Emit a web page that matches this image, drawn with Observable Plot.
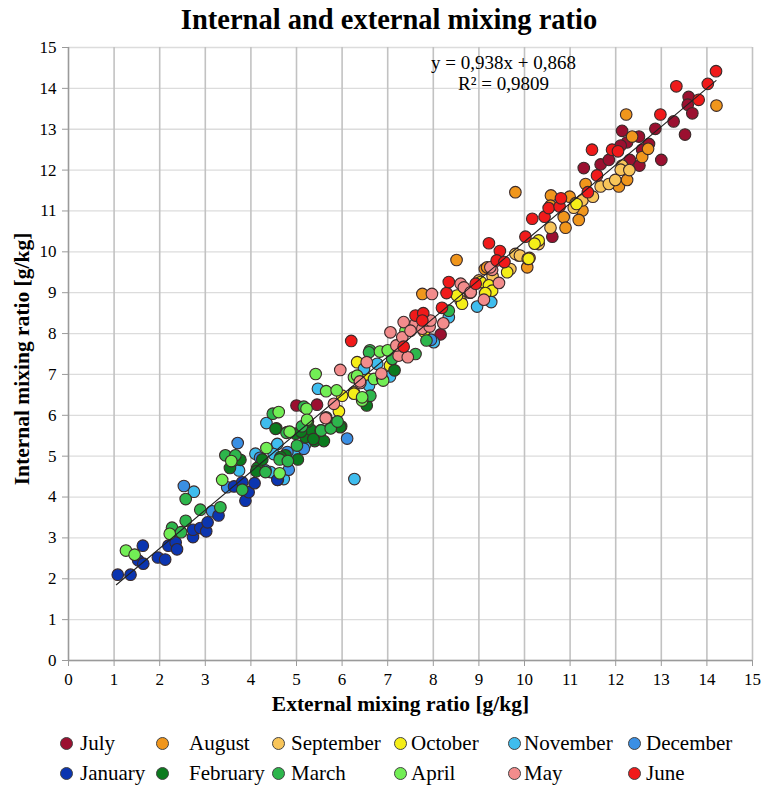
<!DOCTYPE html>
<html><head><meta charset="utf-8">
<script src="https://cdn.jsdelivr.net/npm/d3@7"></script>
<script src="https://cdn.jsdelivr.net/npm/@observablehq/plot@0.6"></script>
<style>
body{margin:0;background:#fff;font-family:"Liberation Serif","Times New Roman",serif;}
#wrap{position:relative;width:766px;height:787px;overflow:hidden;}
#title{position:absolute;top:2px;left:6px;width:766px;text-align:center;font-weight:bold;font-size:28.5px;line-height:36px;}
#chart{position:absolute;top:35px;left:0;}
.ld{position:absolute;width:11px;height:11px;border-radius:50%;border:1px solid #444;}
.lt{position:absolute;font-size:21px;line-height:24px;white-space:nowrap;color:#000;}
</style></head>
<body><div id="wrap"><div id="title">Internal and external mixing ratio</div><div id="chart"></div><div id="legend"></div></div>
<script>
const xTicks = [0,1,2,3,4,5,6,7,8,9,10,11,12,13,14,15];
const yTicks = [0,1,2,3,4,5,6,7,8,9,10,11,12,13,14,15];
const slope = 0.938, intercept = 0.868;
const trendX = [1.05, 14.2];
const eqText = ["y = 0,938x + 0,868", "R² = 0,9809"];

const monthNames = ["July","August","September","October","November","December","January","February","March","April","May","June"];
const monthColors = ["#9B1030","#F0961C","#F8C55A","#F5EE18","#3FBDEE","#3A8FE4","#0B35B0","#0B7A1E","#2DB64C","#72EE55","#F28C8C","#F01A1A"];

const july = [[5.00,6.24],[5.45,6.26],[8.16,7.98],[10.61,10.37],[11.30,12.05],[11.67,12.14],[11.85,12.25],[12.14,12.96],[12.25,12.68],[12.31,12.25],[12.52,12.11],[12.51,12.82],[12.73,12.64],[12.87,13.01],[13.27,13.19],[13.52,12.87],[13.00,12.25],[13.60,13.79],[13.58,13.60],[13.68,13.39],[12.11,12.60],[12.58,12.50]];
const august = [[7.76,8.97],[8.51,9.80],[9.13,9.58],[9.80,11.46],[10.58,11.38],[10.99,11.35],[11.27,11.01],[10.86,10.85],[10.90,10.59],[11.19,10.78],[10.57,11.13],[10.06,9.62],[10.11,9.85],[9.87,9.91],[9.18,9.62],[12.07,11.60],[12.25,11.76],[12.58,12.32],[12.71,12.52],[12.36,12.82],[11.34,11.66],[12.23,13.36],[14.21,13.58]];
const september = [[11.12,11.19],[11.08,11.08],[11.27,11.26],[11.67,11.60],[11.85,11.66],[12.14,12.11],[12.11,12.01],[11.99,11.76],[10.31,10.19],[10.57,10.59],[9.69,9.58],[9.80,9.95],[9.90,9.91],[10.07,9.83],[8.60,8.80],[9.00,9.30],[9.30,9.40],[8.80,9.00],[11.50,11.35],[12.30,12.00]];
const october = [[10.31,10.28],[10.22,10.20],[9.04,9.26],[9.22,9.18],[9.29,9.05],[9.14,8.99],[8.63,8.73],[8.52,8.93],[9.62,9.50],[10.09,9.83],[11.14,11.17],[7.80,8.05],[6.33,7.30],[6.26,6.56],[6.00,6.48],[5.93,6.10],[6.26,6.53],[7.05,7.22],[6.55,6.90]];
const november = [[2.75,4.13],[3.74,4.65],[4.10,5.06],[4.34,5.81],[4.58,5.30],[4.43,4.61],[4.72,4.44],[6.27,4.44],[5.47,6.65],[6.59,6.73],[6.77,7.26],[6.48,7.14],[8.01,7.79],[8.34,8.40],[8.96,8.66],[9.27,8.77],[8.82,9.01],[4.95,5.10],[5.20,5.30],[4.20,4.75],[4.50,5.05],[7.05,6.95]];
const december = [[2.53,4.27],[3.15,3.65],[3.48,4.24],[3.71,5.32],[4.32,4.65],[4.59,4.42],[4.83,4.67],[5.16,5.18],[6.11,5.43],[4.20,4.96],[4.80,5.10],[5.35,5.50],[7.95,7.85]];
const january = [[1.08,2.10],[1.36,2.10],[1.53,2.45],[1.64,2.37],[1.63,2.81],[1.96,2.52],[2.12,2.47],[2.19,2.81],[2.35,2.89],[2.38,2.72],[2.73,3.02],[2.73,3.20],[2.89,3.24],[3.02,3.16],[3.05,3.38],[3.29,3.55],[3.63,4.26],[3.81,4.36],[3.88,3.91],[3.95,4.12],[4.08,4.34],[4.58,4.42]];
const february = [[3.54,4.71],[3.77,4.91],[4.14,4.71],[4.25,4.92],[4.76,5.02],[5.03,4.92],[4.56,5.68],[4.98,5.55],[5.20,5.46],[5.40,5.37],[5.60,5.37],[5.98,5.73],[4.54,5.67],[4.80,5.59],[5.31,5.65],[5.53,5.63],[5.75,5.69],[5.96,5.71],[5.37,5.42],[6.54,6.24],[7.15,7.10],[4.12,4.63],[4.65,4.98],[5.25,5.85],[5.65,5.95],[5.10,5.60],[5.80,5.80]];
const march = [[2.27,3.25],[2.47,3.14],[2.57,3.42],[2.89,3.69],[3.33,3.75],[2.57,3.95],[3.81,4.18],[3.44,5.02],[3.66,5.02],[4.63,4.92],[4.81,4.88],[4.78,5.57],[5.01,5.26],[5.54,5.63],[5.75,5.68],[4.48,6.04],[5.16,6.21],[6.61,7.59],[6.59,7.54],[7.10,7.38],[7.61,7.50],[7.85,7.83],[8.34,8.56],[6.62,6.48],[4.32,4.61],[5.12,5.73],[5.90,5.85]];
const april = [[1.26,2.69],[1.45,2.59],[2.22,3.10],[3.37,4.42],[3.57,4.88],[4.34,5.20],[4.63,4.58],[4.61,6.08],[5.22,6.16],[5.23,5.89],[5.65,6.59],[5.88,6.61],[6.44,6.36],[6.26,6.93],[6.83,7.56],[7.00,7.59],[6.44,6.44],[6.70,6.89],[6.88,6.89],[6.90,6.85],[6.33,6.97],[5.42,7.01],[4.85,5.60],[7.39,8.07]];
const may = [[5.82,6.28],[5.96,7.11],[5.64,5.93],[6.40,6.79],[6.54,7.30],[6.86,7.02],[6.39,6.83],[7.28,7.59],[7.24,7.46],[7.44,7.42],[7.19,7.71],[7.32,7.91],[7.06,8.03],[7.35,8.28],[7.61,8.24],[7.76,8.12],[7.92,8.17],[7.85,8.32],[7.50,8.07],[7.94,8.32],[8.22,8.25],[7.97,8.97],[8.60,9.22],[8.67,9.13],[8.82,9.01],[9.44,9.24],[9.11,8.83],[9.29,9.56],[9.25,9.62]];
const june = [[6.20,7.82],[7.35,7.68],[7.61,8.44],[7.78,8.50],[7.76,8.32],[8.19,8.63],[8.29,8.99],[8.34,9.26],[8.93,9.22],[9.22,10.21],[9.46,10.02],[9.39,9.79],[9.56,9.75],[10.02,10.37],[10.17,10.81],[10.44,10.86],[10.53,11.07],[10.77,11.11],[10.80,11.31],[11.39,11.46],[11.59,11.87],[11.48,12.50],[11.92,12.50],[12.05,12.46],[12.98,13.36],[13.33,14.05],[13.82,13.72],[14.02,14.11],[14.20,14.42]];

const series = [july,august,september,october,november,december,january,february,march,april,may,june];
const months = monthNames.map((name,i)=>({name, color: monthColors[i], pts: series[i].map(([x,y])=>({x,y}))}));

const trend = trendX.map(x=>({x, y: slope*x + intercept}));

const plot = Plot.plot({
  width: 766, height: 690,
  marginTop: 12, marginBottom: 65, marginLeft: 68, marginRight: 14,
  style: {fontFamily: '"Liberation Serif","Times New Roman",serif', fontSize: "17px", color: "#000", background: "transparent", overflow: "visible"},
  x: {domain: [0,15]},
  y: {domain: [0,15]},
  marks: [
    Plot.gridY(yTicks, {stroke: "#dcdcdc", strokeOpacity: 1, strokeWidth: 1.3}),
    Plot.gridX(xTicks, {stroke: "#c2c2c2", strokeOpacity: 1, strokeWidth: 1.6}),
    Plot.ruleY([0], {stroke: "#9a9a9a", strokeWidth: 1.3}),
    Plot.ruleX([0], {stroke: "#9a9a9a", strokeWidth: 1.3}),
    Plot.axisX(xTicks, {tickSize: 6, tickPadding: 6, stroke: "#9a9a9a", fill: "#000", label: null, fontSize: 17}),
    Plot.axisY(yTicks, {tickSize: 6, tickPadding: 6, stroke: "#9a9a9a", fill: "#000", label: null, fontSize: 17}),
    ...months.map(m => Plot.dot(m.pts, {x: "x", y: "y", r: 5.8, fill: m.color, fillOpacity: 1, stroke: "#3a2a2a", strokeWidth: 1.1})),
    Plot.line(trend, {x: "x", y: "y", stroke: "#222", strokeWidth: 1.1}),
    Plot.text([eqText[0]], {x: 9.54, y: 14.62, text: d => d, fontSize: 19, fill: "#000"}),
    Plot.text([eqText[1]], {x: 9.54, y: 14.11, text: d => d, fontSize: 19, fill: "#000"}),
    Plot.text(["External mixing ratio [g/kg]"], {frameAnchor: "bottom", dy: 50, dx: -10, text: d => d, fontSize: 21.5, fontWeight: "bold", fill: "#000"}),
    Plot.text(["Internal mixing ratio [g/kg]"], {frameAnchor: "left", textAnchor: "middle", dx: -46, dy: 5, rotate: -90, text: d => d, fontSize: 21.5, fontWeight: "bold", fill: "#000"})
  ]
});
document.getElementById("chart").appendChild(plot);

// legend
const legDotX = [66,162,278,400,514,634];
const legTextX = [80,189,291,411,524,646];
const legRowY = [743,773];
const leg = document.getElementById("legend");
months.forEach((m,i)=>{
  const col = i % 6, row = Math.floor(i/6);
  const d = document.createElement("div");
  d.className = "ld";
  d.style.left = (legDotX[col]-6)+"px";
  d.style.top = (legRowY[row]-6)+"px";
  d.style.background = m.color;
  leg.appendChild(d);
  const t = document.createElement("div");
  t.className = "lt";
  t.style.left = legTextX[col]+"px";
  t.style.top = (legRowY[row]-12)+"px";
  t.textContent = m.name;
  leg.appendChild(t);
});
</script>
</body></html>
